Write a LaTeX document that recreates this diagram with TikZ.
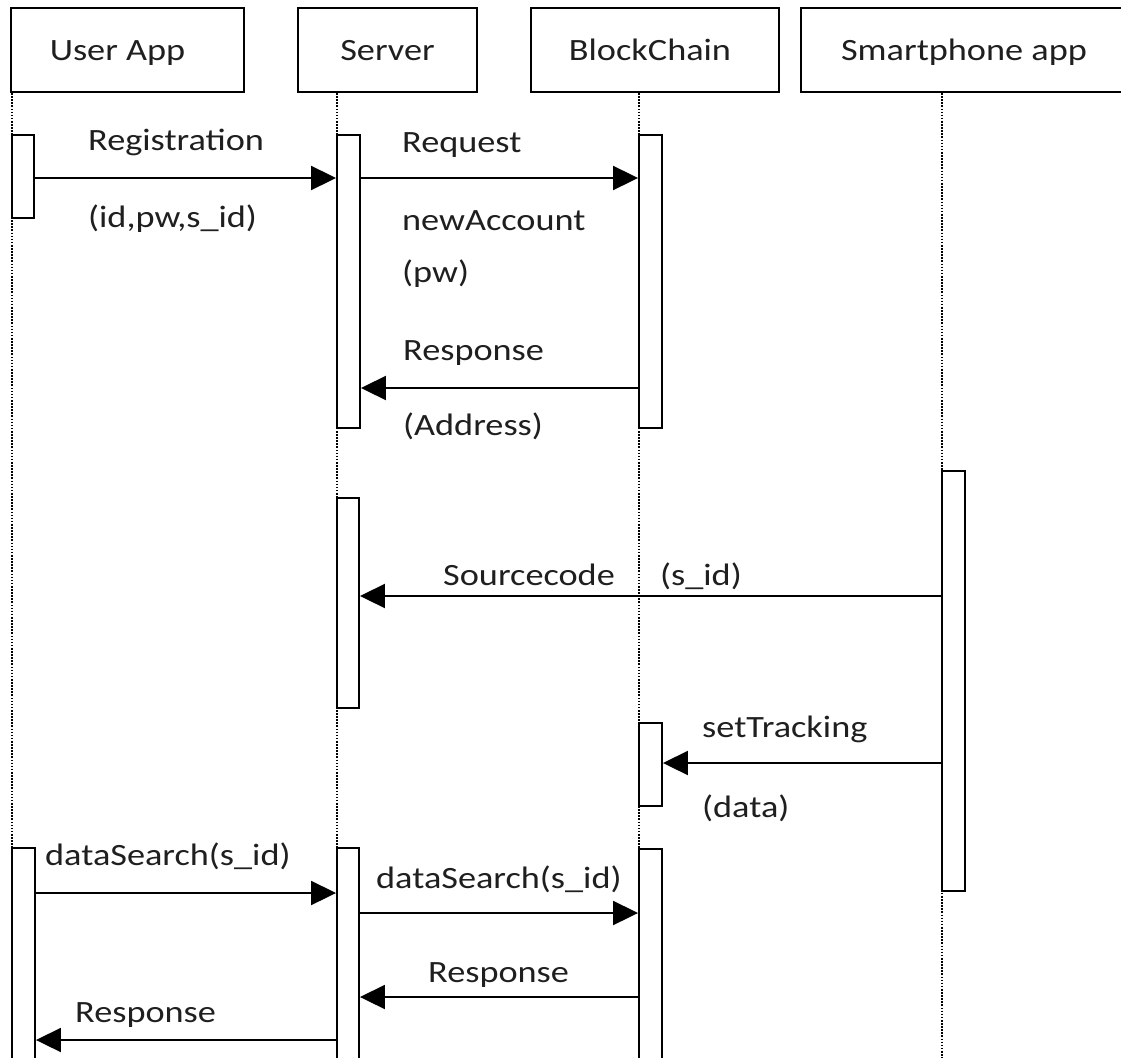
\documentclass[tikz,border=0pt]{standalone}
\usepackage{fontspec}
\setmainfont{Carlito}
\usepackage{graphicx}
\usetikzlibrary{arrows.meta}
\newcommand{\wt}[1]{\scalebox{1.17}[1]{#1}}
\begin{document}
\begin{tikzpicture}[x=1pt,y=-1pt,
  head/.style={draw, line width=1.8pt, minimum height=84pt, inner sep=0pt, text height=21pt, text depth=0pt, font=\fontsize{31}{36}\selectfont, text=black!88},
  life/.style={line width=1.7pt, dash pattern=on 1.6pt off 1.5pt},
  act/.style={draw, fill=white, line width=1.9pt, minimum width=23pt, inner sep=0pt},
  msg/.style={line width=2pt, -{Triangle[length=25pt,width=24pt]}},
  lbl/.style={anchor=base west, inner sep=0pt, font=\fontsize{31}{36}\selectfont, text=black!88}
]
\useasboundingbox (0,0) rectangle (1121,1057);
\clip (0,0) rectangle (1121,1057);
% header boxes
\node[head, minimum width=233pt] (uah) at (127.5,50) {\wt{User App}\hspace*{20pt}};
\node[head, minimum width=179pt] (svh) at (387.5,50) {\wt{Server}};
\node[head, minimum width=248pt] (bch) at (655,50) {\wt{BlockChain}\hspace*{10pt}};
\node[head, minimum width=326pt] (sph) at (964,50) {\wt{Smartphone app}};
% lifelines
\coordinate (ua-t) at (12,93);  \coordinate (ua-b) at (12,1060);
\coordinate (sv-t) at (337,93); \coordinate (sv-b) at (337,1060);
\coordinate (bc-t) at (639,93); \coordinate (bc-b) at (639,1060);
\coordinate (sp-t) at (942,93); \coordinate (sp-b) at (942,1060);
\draw[life] (ua-t) -- (ua-b);
\draw[life] (sv-t) -- (sv-b);
\draw[life] (bc-t) -- (bc-b);
\draw[life] (sp-t) -- (sp-b);
% activation boxes
\node[act, minimum width=22pt, minimum height=83pt] (ua1) at (23,176.5) {};
\node[act, minimum height=293pt] (sv1) at (348.5,281.5) {};
\node[act, minimum height=293pt] (bc1) at (650.5,281.5) {};
\node[act, minimum height=420pt] (sp1) at (953.5,681) {};
\node[act, minimum width=22pt, minimum height=210pt] (sv2) at (348,603) {};
\node[act, minimum height=83pt] (bc2) at (650.5,764.5) {};
\node[act, minimum height=220pt] (ua2) at (23.5,958) {};
\node[act, minimum width=22pt, minimum height=220pt] (sv3) at (348,958) {};
\node[act, minimum height=220pt] (bc3) at (650.5,959) {};
% message levels
\coordinate (r1) at (0,178);
\coordinate (r3) at (0,388);
\coordinate (r4) at (0,596);
\coordinate (r5) at (0,763);
\coordinate (r6) at (0,893);
\coordinate (r7) at (0,913);
\coordinate (r8) at (0,997);
\coordinate (r9) at (0,1040);
% messages
\draw[msg] (ua1.east |- r1) -- (sv1.west |- r1);
\draw[msg] (sv1.east |- r1) -- (bc1.west |- r1);
\draw[msg] (bc1.west |- r3) -- (sv1.east |- r3);
\draw[msg] (sp1.west |- r4) -- (sv2.east |- r4);
\draw[msg] (sp1.west |- r5) -- (bc2.east |- r5);
\draw[msg] (ua2.east |- r6) -- (sv3.west |- r6);
\draw[msg] (sv3.east |- r7) -- (bc3.west |- r7);
\draw[msg] (bc3.west |- r8) -- (sv3.east |- r8);
\draw[msg] (sv3.west |- r9) -- (ua2.east |- r9);
% labels
\node[lbl] (l1) at (88,150) {\wt{Registration}};
\node[lbl] (l2) at (88,227) {\wt{(id,pw,s\_id)}};
\node[lbl] (l3) at (402,152) {\wt{Request}};
\node[lbl] (l4) at (402,230) {\wt{newAccount}};
\node[lbl] (l5) at (402,282) {\wt{(pw)}};
\node[lbl] (l6) at (403,360) {\wt{Response}};
\node[lbl] (l7) at (403,435) {\wt{(Address)}};
\node[lbl] (l8) at (443,585) {\wt{Sourcecode}};
\node[lbl] (l9) at (660,585) {\wt{(s\_id)}};
\node[lbl] (l10) at (702,737) {\wt{setTracking}};
\node[lbl] (l11) at (702,817) {\wt{(data)}};
\node[lbl] (l12) at (45,865) {\wt{dataSearch(s\_id)}};
\node[lbl] (l13) at (376,888) {\wt{dataSearch(s\_id)}};
\node[lbl] (l14) at (428,982) {\wt{Response}};
\node[lbl] (l15) at (75,1022) {\wt{Response}};
\end{tikzpicture}
\end{document}
